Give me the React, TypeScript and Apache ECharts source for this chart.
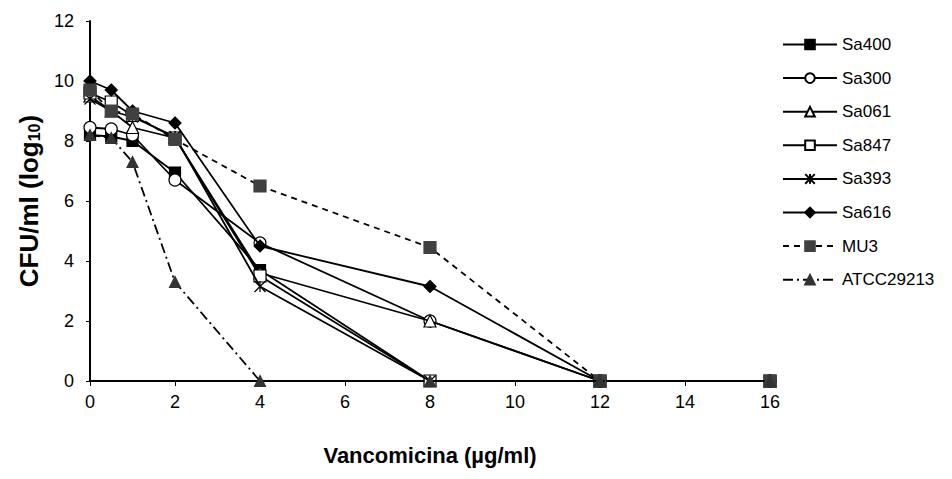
import React, { useEffect, useRef } from "react";
import * as echarts from "echarts";

const xValues = [0, 0.5, 1, 2, 4, 8, 12, 16];
const sa400 = [8.2, 8.15, 8.0, 6.95, 3.7, 0, 0, 0];
const sa300 = [8.45, 8.4, 8.2, 6.7, 4.6, 2.0, 0, 0];
const sa061 = [9.5, 9.0, 8.45, 8.1, 3.6, 2.0, 0, 0];
const sa847 = [9.6, 9.3, 8.85, 8.1, 3.5, 0, 0, 0];
const sa393 = [9.4, 9.0, 8.8, 8.15, 3.15, 0, 0, 0];
const sa616 = [10.0, 9.7, 9.0, 8.6, 4.5, 3.15, 0, 0];
const mu3 = [9.7, 9.0, 8.9, 8.05, 6.5, 4.45, 0, 0];
const atcc = [8.2, 8.1, 7.3, 3.3, 0, 0, 0, 0];

const seriesNames = ["Sa400", "Sa300", "Sa061", "Sa847", "Sa393", "Sa616", "MU3", "ATCC29213"];
const seriesValues = [sa400, sa300, sa061, sa847, sa393, sa616, mu3, atcc];

const asterisk = "path://M0,0L10,10M10,0L0,10M5,0L5,10";

const styles = [
  { symbol: "rect", size: 11, fill: "#000", border: "#000", dash: "solid" as any },
  { symbol: "circle", size: 12, fill: "#fff", border: "#000", dash: "solid" as any },
  { symbol: "triangle", size: 12, fill: "#fff", border: "#000", dash: "solid" as any },
  { symbol: "rect", size: 12, fill: "#fff", border: "#000", dash: "solid" as any },
  { symbol: asterisk, size: 11, fill: "none", border: "#000", dash: "solid" as any },
  { symbol: "diamond", size: 12, fill: "#000", border: "#000", dash: "solid" as any },
  { symbol: "rect", size: 12, fill: "#404040", border: "#404040", dash: [6, 5] as any },
  { symbol: "triangle", size: 11, fill: "#333", border: "#333", dash: [10, 4, 2, 4] as any },
];

export default function App() {
  const ref = useRef<HTMLDivElement>(null);
  useEffect(() => {
    if (!ref.current) return;
    const chart = echarts.init(ref.current, undefined, { renderer: "svg" });
    const series = seriesNames.map((name, i) => ({
      name,
      type: "line",
      data: xValues.map((x, j) => [x, seriesValues[i][j]]),
      symbol: styles[i].symbol,
      symbolSize: styles[i].size,
      showAllSymbol: true,
      lineStyle: { color: "#000", width: 1.8, type: styles[i].dash },
      itemStyle: {
        color: styles[i].fill,
        borderColor: styles[i].border,
        borderWidth: 1.2,
      },
      z: 2 + i,
    }));
    chart.setOption({
      animation: false,
      backgroundColor: "#fff",
      textStyle: { fontFamily: "Liberation Sans, Arial, sans-serif" },
      grid: { left: 81, top: 13, width: 681, height: 370, containLabel: false },
      legend: {
        orient: "vertical",
        left: 769,
        top: 23,
        itemWidth: 54,
        itemHeight: 12,
        itemGap: 16.6,
        textStyle: { fontSize: 17, lineHeight: 17, color: "#000", fontFamily: "Liberation Sans, Arial, sans-serif" },
        data: seriesNames,
      },
      xAxis: {
        type: "value",
        min: 0,
        max: 16,
        interval: 2,
        name: "Vancomicina (µg/ml)",
        nameLocation: "middle",
        nameGap: 63,
        nameTextStyle: { fontSize: 22, fontWeight: "bold", color: "#000" },
        axisLine: { show: true, lineStyle: { color: "#000", width: 2 } },
        axisTick: { show: true, inside: false, length: 5, lineStyle: { color: "#000", width: 1 } },
        axisLabel: { fontSize: 18, color: "#000", margin: 12 },
        splitLine: { show: false },
      },
      yAxis: {
        type: "value",
        min: 0,
        max: 12,
        interval: 2,
        name: "CFU/ml (log{sub|10})",
        nameLocation: "middle",
        nameGap: 48,
        nameRotate: 90,
        nameTextStyle: {
          fontSize: 26,
          fontWeight: "bold",
          color: "#000",
          rich: { sub: { fontSize: 16, fontWeight: "bold", color: "#000", verticalAlign: "bottom", padding: [10, 0, 0, 0] } },
        },
        axisLine: { show: true, lineStyle: { color: "#000", width: 2 } },
        axisTick: { show: true, inside: false, length: 4, lineStyle: { color: "#000", width: 1 } },
        axisLabel: { fontSize: 18, color: "#000", margin: 16 },
        splitLine: { show: false },
      },
      series,
    });
    return () => chart.dispose();
  }, []);
  return <div ref={ref} style={{ width: 936, height: 463 }} />;
}
